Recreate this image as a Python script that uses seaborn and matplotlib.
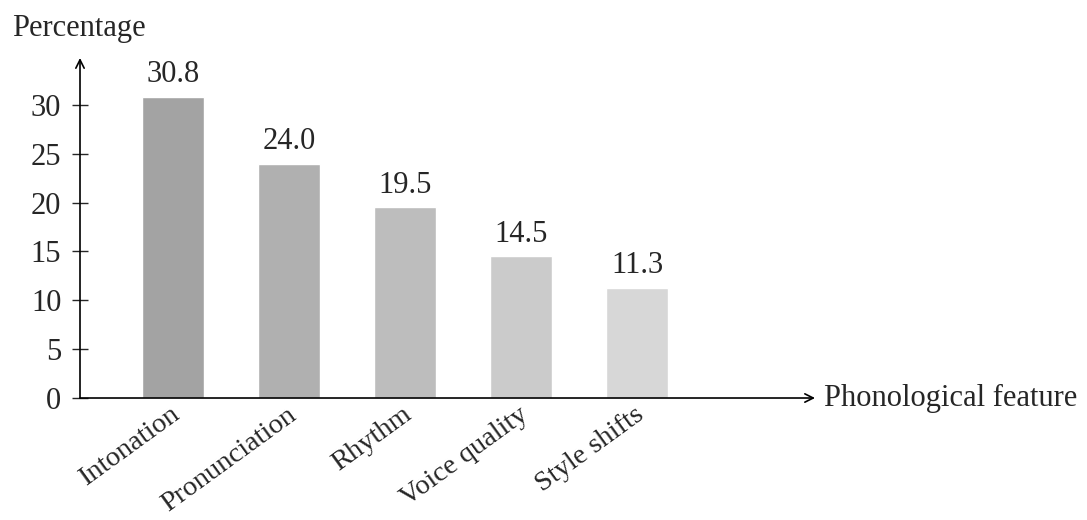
import pandas as pd
import matplotlib
matplotlib.use('Agg')
import matplotlib.pyplot as plt
import matplotlib.transforms as mtransforms
import seaborn as sns

# Data
features = ['Intonation', 'Pronunciation', 'Rhythm', 'Voice quality', 'Style shifts']
percentages = [30.8, 24.0, 19.5, 14.5, 11.3]
bar_colors = ['#a3a3a3', '#b0b0b0', '#bdbdbd', '#cbcbcb', '#d7d7d7']
y_ticks = [0, 5, 10, 15, 20, 25, 30]

df = pd.DataFrame({'feature': features, 'pct': percentages})

sns.set_style('white')
plt.rcParams['font.family'] = ['Liberation Serif', 'DejaVu Serif']

fig = plt.figure(figsize=(10.87, 5.2), dpi=100)
ax = fig.add_axes([0.0736, 0.2346, 0.6762, 0.6539])

sns.barplot(data=df, x='feature', y='pct', hue='feature', palette=bar_colors,
            width=0.535, legend=False, ax=ax, saturation=1)

ax.set_xlim(-0.80, 5.53)
ax.set_ylim(0, 34.8)
for s in ax.spines.values():
    s.set_visible(False)

# arrows for axes
arrow = dict(arrowstyle='->,head_length=0.6,head_width=0.3', lw=1.2, color='black',
             shrinkA=0, shrinkB=0)
ax.annotate('', xy=(0, 1), xytext=(0, 0), xycoords='axes fraction', arrowprops=arrow)
ax.annotate('', xy=(1, 0), xytext=(0, 0), xycoords='axes fraction', arrowprops=arrow)

ax.set_yticks(y_ticks)
ax.tick_params(axis='y', direction='inout', length=11, width=1, labelsize=22, pad=8, left=True)
ax.tick_params(axis='x', length=0, labelsize=20.5, pad=3)
ax.set_xticks(range(len(features)))
ax.set_xticklabels(features, rotation=36, ha='right', rotation_mode='anchor')
shift = mtransforms.ScaledTranslation(-3 / 100, 0, fig.dpi_scale_trans)
for lbl in ax.get_xticklabels():
    lbl.set_transform(lbl.get_transform() + shift)

for i, v in enumerate(percentages):
    ax.text(i, v + 0.8, f'{v:.1f}', ha='center', va='bottom', fontsize=22)

ax.set_xlabel('')
ax.set_ylabel('')
fig.text(0.011, 0.945, 'Percentage', fontsize=22, ha='left', va='center')
ax.text(1.012, 0, 'Phonological feature', transform=ax.transAxes,
        fontsize=22, ha='left', va='center')

fig.savefig('out.png', dpi=100)
